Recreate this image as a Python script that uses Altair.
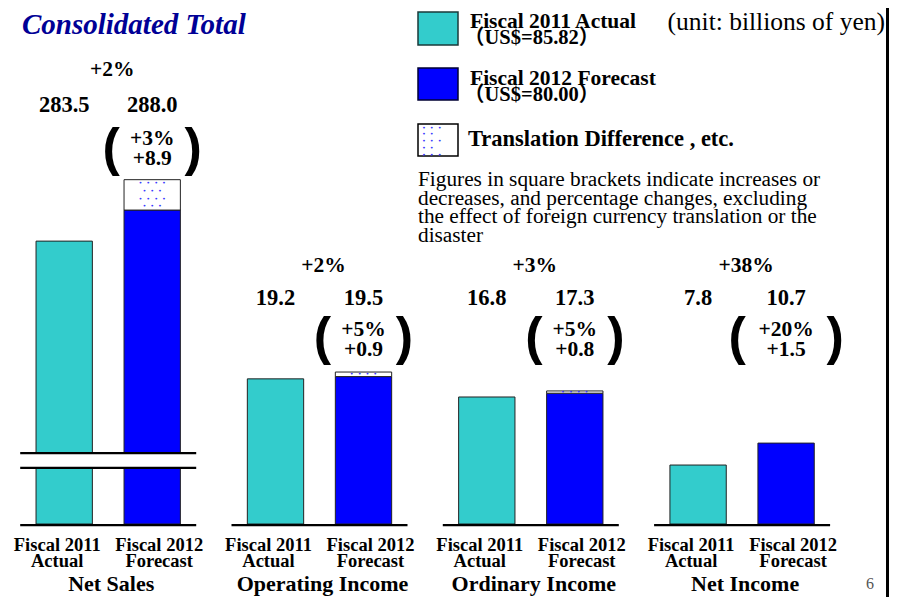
import altair as alt
import pandas as pd

# ---------------- data ----------------
groups = ["Net Sales", "Operating Income", "Ordinary Income", "Net Income"]
series = ["Actual", "Forecast"]
actual = [283.5, 19.2, 16.8, 7.8]
forecast = [288.0, 19.5, 17.3, 10.7]
yoy_change = ["+2%", "+2%", "+3%", "+38%"]
excl_pct = ["+3%", "+5%", "+5%", "+20%"]
excl_amt = [8.9, 0.9, 0.8, 1.5]
series_line1 = ["Fiscal 2011", "Fiscal 2012"]
series_line2 = ["Actual", "Forecast"]
legend_labels = ["Fiscal 2011 Actual", "Fiscal 2012 Forecast", "Translation Difference , etc."]
legend_rates = ["（US$=85.82）", "（US$=80.00）"]
title_text = "Consolidated Total"
unit_text = "(unit: billions of yen)"
note_lines = [
    "Figures in square brackets indicate increases or",
    "decreases, and percentage changes, excluding",
    "the effect of foreign currency translation or the",
    "disaster",
]
page_no = "6"

# ---------------- styling constants ----------------
SERIF = "Liberation Serif"
SERIF_CJK = "Liberation Serif, Noto Sans CJK JP"
TEAL = "#33CCCC"
BLUE = "#0000FF"
DOT = "#3a3aff"
W, H = 881, 589

# broken axis for Net Sales (display units of the shared y scale)
BRK_VAL, BRK_DISP, NS_K = 252.8, 9.39, 0.913
GAP_LO = 7.41


def disp(g, v):
    if g == "Net Sales":
        return BRK_DISP + (v - BRK_VAL) * NS_K
    return v


rows = []
for i, g in enumerate(groups):
    rows.append(dict(group=g, series="Actual", top=disp(g, actual[i]), base=0.0,
                     label=f"{actual[i]:.1f}"))
    rows.append(dict(group=g, series="Forecast", top=disp(g, forecast[i]), base=0.0,
                     label=f"{forecast[i]:.1f}"))
bars = pd.DataFrame(rows)

grp = pd.DataFrame(dict(group=groups, chg=yoy_change, p=excl_pct,
                        a=[f"+{v:.1f}" for v in excl_amt],
                        series=["Forecast"] * 4))

# translation difference segments (forecast -> value excluding translation)
seg_rows, dot_rows = [], []
for i, g in enumerate(groups):
    lo = forecast[i]
    hi = actual[i] + excl_amt[i]
    if hi > lo:
        d_lo, d_hi = disp(g, lo), disp(g, hi)
        seg_rows.append(dict(group=g, series="Forecast", lo=d_lo, hi=d_hi))
        span = d_hi - d_lo
        n = max(1, int(span / 0.926))
        for k in range(n):
            dot_rows.append(dict(group=g, series="Forecast",
                                 y=d_hi - span * (k + 0.5) / n,
                                 dots="•   •   •   •" if k % 2 == 0 else "•   •   •"))
segs = pd.DataFrame(seg_rows)
dots = pd.DataFrame(dot_rows)

base_df = pd.DataFrame(dict(group=groups, lo=[-0.3] * 4, hi=[0.0] * 4))
gap_df = pd.DataFrame(dict(group=["Net Sales"], lo=[GAP_LO], hi=[BRK_DISP]))
brk_df = pd.DataFrame(dict(group=["Net Sales"] * 2,
                           lo=[BRK_DISP - 0.15, GAP_LO - 0.15],
                           hi=[BRK_DISP + 0.15, GAP_LO + 0.15]))

# ---------------- scales ----------------
PX_PER_UNIT = 7.56
ZERO_PX = 516
xs = alt.Scale(domain=groups, range=[12.2, 822.1], paddingInner=0.167, paddingOuter=0)
xos = alt.Scale(domain=series, paddingInner=0.36, paddingOuter=0.18)
ys = alt.Scale(domain=[-(H - ZERO_PX) / PX_PER_UNIT, ZERO_PX / PX_PER_UNIT], nice=False, zero=False)
X = alt.X("group:N", scale=xs, axis=None)
XO = alt.XOffset("series:N", scale=xos)


def Y(f):
    return alt.Y(f"{f}:Q", scale=ys, axis=None)


layers = []

# bars
layers.append(alt.Chart(bars).mark_bar(stroke="#222", strokeWidth=1).encode(
    x=X, xOffset=XO, y=Y("top"), y2="base:Q",
    color=alt.Color("series:N", scale=alt.Scale(domain=series, range=[TEAL, BLUE]), legend=None)))
# translation difference (dotted) segments
layers.append(alt.Chart(segs).mark_bar(fill="white", stroke="#222", strokeWidth=1).encode(
    x=X, xOffset=XO, y=Y("hi"), y2="lo:Q"))
layers.append(alt.Chart(dots).mark_text(font="DejaVu Sans Mono", fontSize=6.5, color=DOT,
                                         baseline="middle").encode(
    x=X, xOffset=XO, y=Y("y"), text="dots:N"))
# baselines
layers.append(alt.Chart(base_df).mark_rect(color="black").encode(x=X, y=Y("hi"), y2="lo:Q"))
# axis break
layers.append(alt.Chart(gap_df).mark_rect(color="white").encode(x=X, y=Y("hi"), y2="lo:Q"))
layers.append(alt.Chart(brk_df).mark_rect(color="black").encode(x=X, y=Y("hi"), y2="lo:Q"))

# ---------------- annotation texts ----------------
tb = dict(font=SERIF, fontWeight="bold", color="black", baseline="middle")
ns = alt.datum.group == "Net Sales"
oth = alt.datum.group != "Net Sales"

for filt, y_chg, y_val, y_b1, y_b2 in [(ns, 62, 97, 131, 151),
                                       (oth, 258, 290, 322, 342)]:
    layers.append(alt.Chart(grp).transform_filter(filt).mark_text(fontSize=21.5, dx=4, **tb).encode(
        x=X, y=alt.value(y_chg), text="chg:N"))
    layers.append(alt.Chart(bars).transform_filter(filt).mark_text(fontSize=22.5, **tb).encode(
        x=X, xOffset=XO, y=alt.value(y_val), text="label:N"))
    layers.append(alt.Chart(grp).transform_filter(filt).mark_text(fontSize=21.5, **tb).encode(
        x=X, xOffset=XO, y=alt.value(y_b1), text="p:N"))
    layers.append(alt.Chart(grp).transform_filter(filt).mark_text(fontSize=21.5, **tb).encode(
        x=X, xOffset=XO, y=alt.value(y_b2), text="a:N"))

# brackets
ni = alt.datum.group == "Net Income"
not_ni = alt.datum.group != "Net Income"
for filt, half in [(not_ni, 41), (ni, 49)]:
    for ch, sgn in [("(", -1), (")", 1)]:
        for filt2, yb in [(ns, 141), (oth, 330)]:
            layers.append(alt.Chart(grp).transform_filter(filt).transform_filter(filt2)
                          .mark_text(text=ch, font="Liberation Sans", fontSize=52, fontWeight="bold",
                                     dx=sgn * half, baseline="middle", color="black").encode(
                x=X, xOffset=XO, y=alt.value(yb)))

# x labels (two lines, slightly spread apart like the slide)
lab = pd.DataFrame([dict(group=g, series=s, l1=series_line1[j], l2=series_line2[j])
                    for g in groups for j, s in enumerate(series)])
for s, dx in [("Actual", -7), ("Forecast", 7)]:
    for fld, yy in [("l1", 543), ("l2", 559)]:
        layers.append(alt.Chart(lab).transform_filter(alt.datum.series == s)
                      .mark_text(fontSize=18.5, font=SERIF, fontWeight="bold",
                                 baseline="alphabetic", dx=dx).encode(
            x=X, xOffset=XO, y=alt.value(yy), text=f"{fld}:N"))
# group titles
layers.append(alt.Chart(grp).mark_text(fontSize=22, font=SERIF, fontWeight="bold",
                                       baseline="alphabetic", dx=3).encode(
    x=X, y=alt.value(583), text="group:N"))

# ---------------- title, legend, notes ----------------
one = pd.DataFrame({"k": [0]})


def txt(s, x, y, size, weight="normal", style="normal", color="black", font=SERIF, align="left"):
    return alt.Chart(one).mark_text(text=s, font=font, fontSize=size, fontWeight=weight,
                                    fontStyle=style, color=color, align=align,
                                    baseline="alphabetic").encode(
        x=alt.value(x), y=alt.value(y))


def box(x0, y0, x1, y1, fill, stroke="black", sw=1.5):
    return alt.Chart(one).mark_rect(fill=fill, stroke=stroke, strokeWidth=sw).encode(
        x=alt.value(x0), x2=alt.value(x1), y=alt.value(y0), y2=alt.value(y1))


layers.append(txt(title_text, 14, 26, 29, "bold", "italic", "#000096"))
layers.append(box(410, 4, 450, 37, TEAL, "#1a3a3a"))
layers.append(box(410, 60, 450, 92, BLUE, "#000033"))
layers.append(box(410, 116, 450, 148, "white"))
for r in range(5):
    s = "•   •   •" if r % 2 == 0 else "  •   •"
    layers.append(alt.Chart(one).mark_text(text=s, font="DejaVu Sans Mono", fontSize=6.5,
                                           color=DOT, align="left", baseline="middle").encode(
        x=alt.value(414), y=alt.value(119.5 + r * 6.8)))
layers.append(txt(legend_labels[0], 462, 20, 21.5, "bold"))
layers.append(txt(legend_rates[0], 456, 36, 20.5, "bold", font=SERIF_CJK))
layers.append(txt(legend_labels[1], 462, 77, 21.5, "bold"))
layers.append(txt(legend_rates[1], 456, 93, 20.5, "bold", font=SERIF_CJK))
layers.append(txt(legend_labels[2], 460, 138, 22.5, "bold"))
layers.append(txt(unit_text, 877, 22, 25.5, align="right"))
for i, line in enumerate(note_lines):
    layers.append(txt(line, 410, 178 + i * 18.7, 21.3))
layers.append(txt(page_no, 862, 581, 16, color="#555555", align="center"))
# right border
layers.append(box(878, 0, 881, H, "black", "black", 0))

chart = alt.layer(*layers).properties(
    width=W, height=H, autosize=alt.AutoSizeParams(type="none"), padding=0
).configure_view(stroke=None)

chart.save("out.html", embed_options={"renderer": "svg", "actions": False})
